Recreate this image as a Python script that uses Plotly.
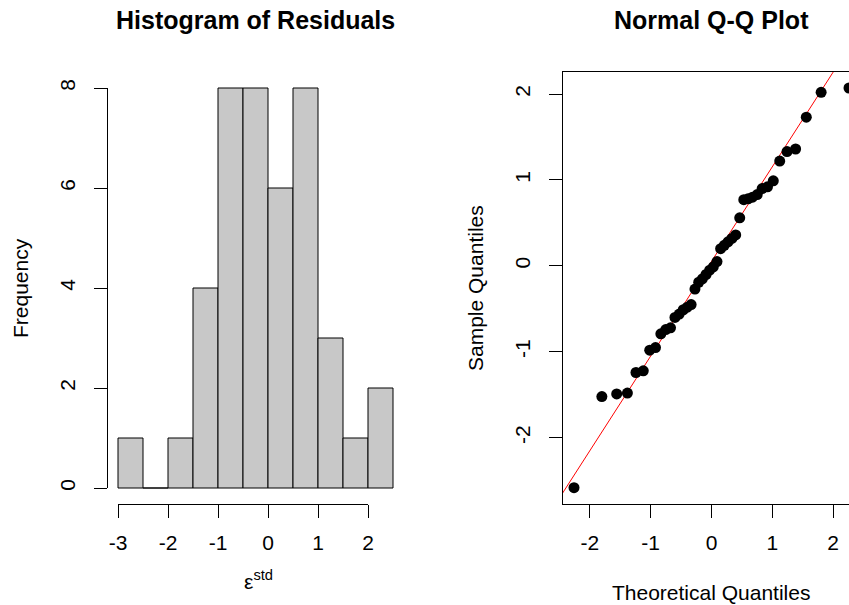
import numpy as np
import plotly.graph_objects as go

# ---------------- data ----------------
bin_left = [-3.0, -2.5, -2.0, -1.5, -1.0, -0.5, 0.0, 0.5, 1.0, 1.5, 2.0]
counts = [1, 0, 1, 4, 8, 8, 6, 8, 3, 1, 2]
bin_width = 0.5

theoretical_q = [-2.261, -1.803, -1.559, -1.383, -1.242, -1.122, -1.016, -0.921,
                 -0.833, -0.752, -0.674, -0.601, -0.531, -0.464, -0.398, -0.335,
                 -0.272, -0.210, -0.150, -0.090, -0.030, 0.030, 0.090, 0.150,
                 0.210, 0.272, 0.335, 0.398, 0.464, 0.531, 0.601, 0.674,
                 0.752, 0.833, 0.921, 1.016, 1.122, 1.242, 1.383, 1.559,
                 1.803, 2.261]
sample_q = [-2.58, -1.52, -1.49, -1.48, -1.24, -1.22, -0.98, -0.95,
            -0.79, -0.74, -0.72, -0.60, -0.56, -0.51, -0.48, -0.45,
            -0.27, -0.19, -0.15, -0.10, -0.05, -0.01, 0.05, 0.20,
            0.24, 0.28, 0.32, 0.36, 0.56, 0.77, 0.78, 0.80,
            0.83, 0.90, 0.92, 0.99, 1.22, 1.33, 1.36, 1.73,
            2.02, 2.07]

hist_xticks = [-3, -2, -1, 0, 1, 2]
hist_yticks = [0, 2, 4, 6, 8]
qq_xticks = [-2, -1, 0, 1, 2]
qq_yticks = [-2, -1, 0, 1, 2]

# ---------------- geometry ----------------
W, H = 849, 605
FONT = "Liberation Sans, Arial, Helvetica, sans-serif"
TICK_SIZE = 21
TITLE_SIZE = 25

def px_x(p):
    return p / W

def px_y(p):
    return 1 - p / H

plot_top, plot_bot = 72, 504
hist_left, hist_right = 107, 404
qq_left = 563

hist_xrange = [-3.22, 2.72]
hist_yrange = [-0.32, 8.32]
qq_xmin = -2.442
qq_scale = 297 / (2 * 2.442)
qq_xrange = [qq_xmin, qq_xmin + (W - qq_left) / qq_scale]
qq_yrange = [-2.77, 2.256]

# qq line through quartiles
q1, q3 = np.quantile(sample_q, [0.25, 0.75])
z1, z3 = -0.6745, 0.6745
slope = (q3 - q1) / (z3 - z1)
intercept = q1 - slope * z1
line_x = [qq_xrange[0] - 1, qq_xrange[1] + 1]
line_y = [intercept + slope * v for v in line_x]

fig = go.Figure()

# histogram bars
fig.add_trace(go.Bar(
    x=[b + bin_width / 2 for b in bin_left], y=counts, width=bin_width,
    marker=dict(color="#C8C8C8", line=dict(color="black", width=1)),
    xaxis="x", yaxis="y", showlegend=False, hoverinfo="skip"))

# invisible trace carrying the R-style axes of the histogram
fig.add_trace(go.Scatter(x=[-3, 2], y=[0, 8], mode="markers", marker=dict(opacity=0),
                         xaxis="x3", yaxis="y3", showlegend=False, hoverinfo="skip"))

# qq line and points
fig.add_trace(go.Scatter(x=line_x, y=line_y, mode="lines",
                         line=dict(color="#FF0000", width=1),
                         xaxis="x2", yaxis="y2", showlegend=False, hoverinfo="skip"))
fig.add_trace(go.Scatter(x=theoretical_q, y=sample_q, mode="markers",
                         marker=dict(color="black", size=11, line=dict(width=0)),
                         xaxis="x2", yaxis="y2", showlegend=False, hoverinfo="skip"))

tickfont = dict(family=FONT, size=TICK_SIZE, color="black")
common = dict(showline=True, linecolor="black", linewidth=1, ticks="outside",
              ticklen=13, tickwidth=1, tickcolor="black", tickfont=tickfont,
              showgrid=False, zeroline=False, automargin=False, fixedrange=True)

fig.update_layout(
    width=W, height=H,
    autosize=False,
    margin=dict(l=0, r=0, t=0, b=0, pad=0, autoexpand=False),
    paper_bgcolor="white", plot_bgcolor="rgba(0,0,0,0)",
    font=dict(family=FONT, color="black"),
    bargap=0,
    xaxis=dict(domain=[px_x(hist_left), px_x(hist_right)], range=hist_xrange,
               visible=False, fixedrange=True, automargin=False),
    yaxis=dict(domain=[px_y(plot_bot), px_y(plot_top)], range=hist_yrange,
               visible=False, fixedrange=True, automargin=False),
    xaxis3=dict(domain=[px_x(hist_left + 11), px_x(hist_left + 11 + 250)], range=[-3, 2],
                anchor="free", position=px_y(plot_bot), ticklabelstandoff=7,
                tickvals=hist_xticks, ticktext=[str(v) for v in hist_xticks], **common),
    yaxis3=dict(domain=[px_y(plot_bot - 16), px_y(plot_top + 16)], range=[0, 8],
                anchor="free", position=px_x(hist_left), ticklabelstandoff=11,
                tickvals=hist_yticks, ticktext=[str(v) for v in hist_yticks],
                tickangle=-90, **common),
    xaxis2=dict(domain=[px_x(qq_left), 1], range=qq_xrange, anchor="y2", mirror=True,
                ticklabelstandoff=7,
                tickvals=qq_xticks, ticktext=[str(v) for v in qq_xticks], **common),
    yaxis2=dict(domain=[px_y(plot_bot), px_y(plot_top)], range=qq_yrange, anchor="x2",
                mirror=False, ticklabelstandoff=11,
                tickvals=qq_yticks, ticktext=[str(v) for v in qq_yticks],
                tickangle=-90, **common),
)

ann = []
ann.append(dict(text="<b>Histogram of Residuals</b>", x=px_x(255.5), y=px_y(20),
                xref="paper", yref="paper", showarrow=False, xanchor="center", yanchor="middle",
                font=dict(family=FONT, size=TITLE_SIZE, color="black")))
ann.append(dict(text="<b>Normal Q-Q Plot</b>", x=px_x(711), y=px_y(20),
                xref="paper", yref="paper", showarrow=False, xanchor="center", yanchor="middle",
                font=dict(family=FONT, size=TITLE_SIZE, color="black")))
ann.append(dict(text="Frequency", x=px_x(20), y=px_y(288), textangle=-90,
                xref="paper", yref="paper", showarrow=False, xanchor="center", yanchor="middle",
                font=dict(family=FONT, size=TICK_SIZE, color="black")))
ann.append(dict(text="Sample Quantiles", x=px_x(475), y=px_y(288), textangle=-90,
                xref="paper", yref="paper", showarrow=False, xanchor="center", yanchor="middle",
                font=dict(family=FONT, size=TICK_SIZE, color="black")))
ann.append(dict(text="Theoretical Quantiles", x=px_x(711), y=px_y(592),
                xref="paper", yref="paper", showarrow=False, xanchor="center", yanchor="middle",
                font=dict(family=FONT, size=TICK_SIZE, color="black")))
ann.append(dict(text="ε<sup>std</sup>", x=px_x(258), y=px_y(580),
                xref="paper", yref="paper", showarrow=False, xanchor="center", yanchor="middle",
                font=dict(family=FONT, size=TICK_SIZE, color="black")))
fig.update_layout(annotations=ann)

fig.write_html(
    "out.html",
    config={"displayModeBar": False, "staticPlot": True},
    post_script="document.body.style.margin='0';document.body.style.overflow='hidden';",
)
